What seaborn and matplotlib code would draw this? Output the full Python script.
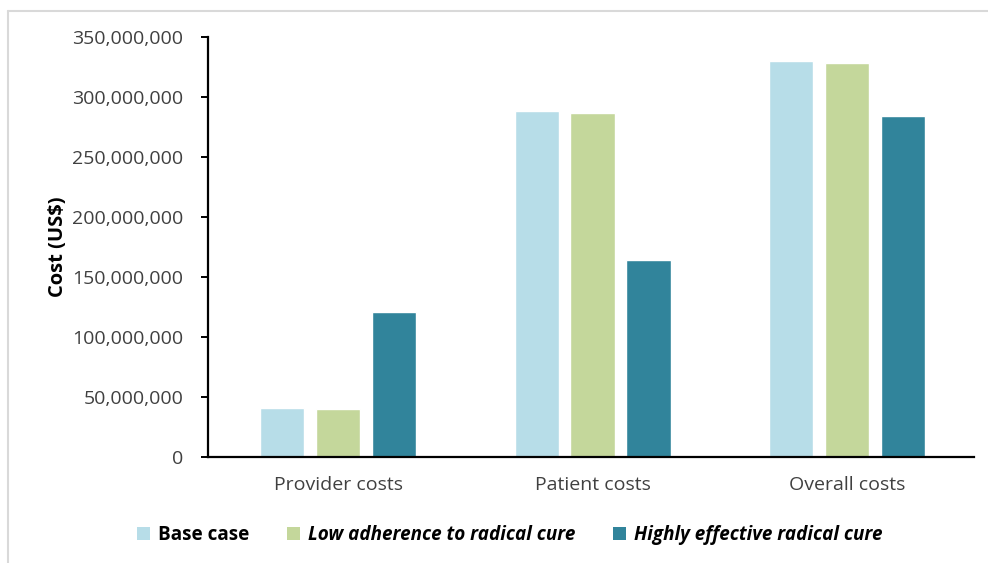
import matplotlib
matplotlib.use("Agg")
import matplotlib.pyplot as plt
from matplotlib.lines import Line2D
from matplotlib.patches import Patch
from matplotlib.ticker import FuncFormatter
import seaborn as sns
import pandas as pd

categories = ["Provider costs", "Patient costs", "Overall costs"]
scenarios = ["Base case", "Low adherence to radical cure", "Highly effective radical cure"]
base_case = [41_000_000, 288_000_000, 330_000_000]
low_adherence = [40_000_000, 287_000_000, 328_000_000]
highly_effective = [121_000_000, 164_000_000, 284_000_000]
colors = ["#B7DDE8", "#C4D79B", "#31849B"]

rows = []
for scen, vals in zip(scenarios, [base_case, low_adherence, highly_effective]):
    for cat, v in zip(categories, vals):
        rows.append({"category": cat, "scenario": scen, "cost": v})
df = pd.DataFrame(rows)

sns.set_style("white")
plt.rcParams["font.family"] = ["Open Sans", "DejaVu Sans"]

fig = plt.figure(figsize=(9.88, 5.63), dpi=100)
ax = fig.add_axes([0.211, 0.1883, 0.775, 0.746])

sns.barplot(data=df, x="category", y="cost", hue="scenario",
            order=categories, hue_order=scenarios, palette=colors,
            width=0.66, gap=0.21, saturation=1, legend=False, ax=ax)

ax.set_ylim(0, 350_000_000)
ax.set_xlim(-0.51, 2.5)
ax.set_yticks(range(0, 350_000_001, 50_000_000))
ax.yaxis.set_major_formatter(FuncFormatter(lambda v, p: f"{int(v):,}"))
ax.set_xlabel("")
ax.set_ylabel("Cost (US$)", fontsize=14.5, fontweight="bold", labelpad=3, color="black")

for s in ["top", "right"]:
    ax.spines[s].set_visible(False)
for s in ["left", "bottom"]:
    ax.spines[s].set_color("black")
    ax.spines[s].set_linewidth(1.6)

ax.tick_params(axis="y", which="major", direction="out", length=5, width=1.4,
               color="black", labelsize=14, labelcolor="#404040", pad=13, left=True)
ax.tick_params(axis="x", length=0, labelsize=14, labelcolor="#404040", pad=14)

handles = [Patch(facecolor=c, edgecolor="none") for c in colors]
leg = fig.legend(handles, scenarios, loc="center", bbox_to_anchor=(0.516, 0.050),
                 ncol=3, frameon=False, handlelength=0.7, handleheight=0.7,
                 handletextpad=0.4, columnspacing=2.0, fontsize=13.6)
for i, t in enumerate(leg.get_texts()):
    t.set_fontweight("bold")
    t.set_color("black")
    if i > 0:
        t.set_fontstyle("italic")

# light frame around the chart area
fig.add_artist(Line2D([0.008, 1.0], [0.980, 0.980], transform=fig.transFigure,
                      color="#D9D9D9", linewidth=1.5))
fig.add_artist(Line2D([0.008, 0.008], [0.0, 0.980], transform=fig.transFigure,
                      color="#D9D9D9", linewidth=1.5))

fig.savefig("out.png", dpi=100, facecolor="white")
